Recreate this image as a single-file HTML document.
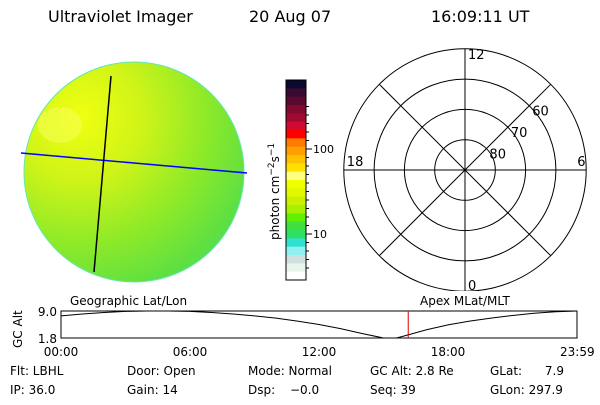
<!DOCTYPE html>
<html><head><meta charset="utf-8"><style>
body{margin:0;background:#fff;width:600px;height:400px;overflow:hidden;font-family:"Liberation Sans",sans-serif}
svg text{font-family:"DejaVu Sans","Liberation Sans",sans-serif;fill:#000;white-space:pre}
</style></head><body>
<svg id="s" width="600" height="400">
<defs>
<radialGradient id="g" cx="0.25" cy="0.25" r="0.95">
<stop offset="0" stop-color="#f0ff10"/><stop offset="0.3" stop-color="#d0f418"/><stop offset="0.6" stop-color="#90ea28"/><stop offset="0.85" stop-color="#60e040"/><stop offset="1" stop-color="#48dc60"/></radialGradient>
<clipPath id="cp"><rect x="0" y="40" width="260" height="244"/></clipPath>
</defs>
<g font-size="16">
<text x="48" y="22">Ultraviolet Imager</text>
<text x="249" y="22">20 Aug 07</text>
<text x="431" y="22">16:09:11 UT</text>
</g>
<g clip-path="url(#cp)">
<circle cx="134" cy="172" r="110" fill="url(#g)" stroke="#60e8b0" stroke-width="1"/>
<ellipse cx="60" cy="125" rx="22" ry="18" fill="#f8ff60" opacity="0.5"/>
</g>
<line x1="21" y1="153" x2="247" y2="173" stroke="#0000ff" stroke-width="1.5"/>
<line x1="111" y1="76" x2="94" y2="272" stroke="#000" stroke-width="1.5"/>
<g id="cb"></g>
<text transform="translate(279,240) rotate(-90)" font-size="12">photon cm<tspan dy="-5" font-size="9">−2</tspan><tspan dy="5">s</tspan><tspan dy="-5" font-size="9">−1</tspan></text>
<g id="polar"></g>
<g id="tl"></g>
<g font-size="12">
<text x="10" y="375">Flt: LBHL</text><text x="10" y="394">IP: 36.0</text>
<text x="127" y="375">Door: Open</text><text x="127" y="394">Gain: 14</text>
<text x="248" y="375">Mode: Normal</text><text x="248" y="394">Dsp:</text><text x="290" y="394">−0.0</text>
<text x="370" y="375">GC Alt: 2.8 Re</text><text x="370" y="394">Seq: 39</text>
<text x="490" y="375">GLat:</text><text x="564" y="375" text-anchor="end">7.9</text><text x="490" y="394">GLon: 297.9</text>
</g>
</svg>
<script>
const NS='http://www.w3.org/2000/svg';
function mk(p,t,a){const e=document.createElementNS(NS,t);for(const k in a)e.setAttribute(k,a[k]);p.appendChild(e);return e;}
// colorbar
const cbColors=['#0a0a30','#3a0a30','#5a0a30','#800a30','#a00a30','#d00a30','#ff0000','#ff7a00','#ffa000','#ffc000','#ffe000','#ffff80','#f0ff00','#e0f800','#c8f000','#a8f000','#60f000','#40e040','#30e060','#30e0d0','#90f0f0','#d0e0e0','#e8f4ec','#ffffff'];
const cbTicks=['100','10'];
const cbTickVals=[100,10];
const cb=document.getElementById('cb');
const cbTop=80,cbBot=280,bh=(cbBot-cbTop)/cbColors.length;
cbColors.forEach((c,i)=>{const r=mk(cb,'rect',{x:286,y:cbTop+i*bh,width:20,height:bh+0.5,fill:c});

});
mk(cb,'rect',{x:286,y:cbTop,width:20,height:cbBot-cbTop,fill:'none',stroke:'#000'});
const yLog=v=>234-(Math.log10(v)-1)*85;
for(let d=-0.4;d<=1.6;d+=0.1){const y=yLog(Math.pow(10,1+d));if(y<cbTop||y>cbBot)continue;mk(cb,'line',{x1:306,x2:Math.abs(d%1)<0.01||Math.abs(d-1)<0.01?312:309,y1:y,y2:y,stroke:'#000'});}
cbTickVals.forEach((v,i)=>{const t=mk(cb,'text',{x:313,y:yLog(v)+4,'font-size':11});t.textContent=cbTicks[i];

});
// polar
const pg=document.getElementById('polar');const cx=465,cy=170;
const rings=[50,60,70,80];const ringLabels=['60','70','80'];
const rOf=lat=>(90-lat)*3.03;
const clip=mk(pg,'clipPath',{id:'pc'});mk(clip,'rect',{x:300,y:40,width:300,height:251});
const pgc=mk(pg,'g',{'clip-path':'url(#pc)'});
rings.forEach(l=>mk(pgc,'circle',{cx,cy,r:rOf(l),fill:'none',stroke:'#000'}));
const R=rOf(50);
for(let a=0;a<360;a+=45){const rad=a*Math.PI/180;mk(pgc,'line',{x1:cx,y1:cy,x2:cx+R*Math.cos(rad),y2:cy+R*Math.sin(rad),stroke:'#000'});}
ringLabels.forEach((s,i)=>{const r=rOf(+s);const t=mk(pg,'text',{x:cx+r*0.707+3,y:cy-r*0.707+10,'font-size':13});t.textContent=s;

});
[['12',cx+3,cy-R+10],['6',cx+R-9,cy-4],['18',cx-R+3,cy-4],['0',cx+3,cy+R-1]].forEach(([s,x,y])=>{const t=mk(pg,'text',{x,y,'font-size':13});t.textContent=s;

});
// timeline
const hours=[0,1,2,3,4,5,6,7,8,9,10,11,12,13,14,15,15.6,16,17,18,19,20,21,22,23,24];
const alt=[7.7,8.2,8.6,8.9,9.0,9.0,8.9,8.6,8.2,7.7,7.1,6.3,5.4,4.3,3.0,1.8,1.8,2.4,4.0,5.3,6.3,7.1,7.8,8.4,8.8,9.0];
const altTicks=['9.0','1.8'];const altTickVals=[9.0,1.8];
const timeTicks=['00:00','06:00','12:00','18:00','23:59'];const timeTickVals=[0,6,12,18,24];
const curTime=16.15;
const tl=document.getElementById('tl');
const X0=61,X1=577,Y0=311,Y1=338;
const xT=h=>X0+h/24*(X1-X0);const yA=v=>Y1-(v-1.8)/(9.0-1.8)*(Y1-Y0);
mk(tl,'rect',{x:X0,y:Y0,width:X1-X0,height:Y1-Y0,fill:'none',stroke:'#000'});
const p=mk(tl,'polyline',{points:hours.map((h,i)=>xT(h)+','+yA(alt[i])).join(' '),fill:'none',stroke:'#000'});


const cl=mk(tl,'line',{x1:xT(curTime),x2:xT(curTime),y1:Y0,y2:Y1,stroke:'#e00000'});


altTickVals.forEach((v,i)=>{const t=mk(tl,'text',{x:57,y:yA(v)+5,'font-size':12,'text-anchor':'end'});t.textContent=altTicks[i];

});
timeTickVals.forEach((v,i)=>{const t=mk(tl,'text',{x:Math.min(xT(v),560),y:356,'font-size':12,'text-anchor':i==4?'start':'middle'});t.textContent=timeTicks[i];

});
let t=mk(tl,'text',{transform:'translate(22,348) rotate(-90)','font-size':12});t.textContent='GC Alt';
t=mk(tl,'text',{x:70,y:305,'font-size':12});t.textContent='Geographic Lat/Lon';
t=mk(tl,'text',{x:420,y:305,'font-size':12});t.textContent='Apex MLat/MLT';
</script>
</body></html>
